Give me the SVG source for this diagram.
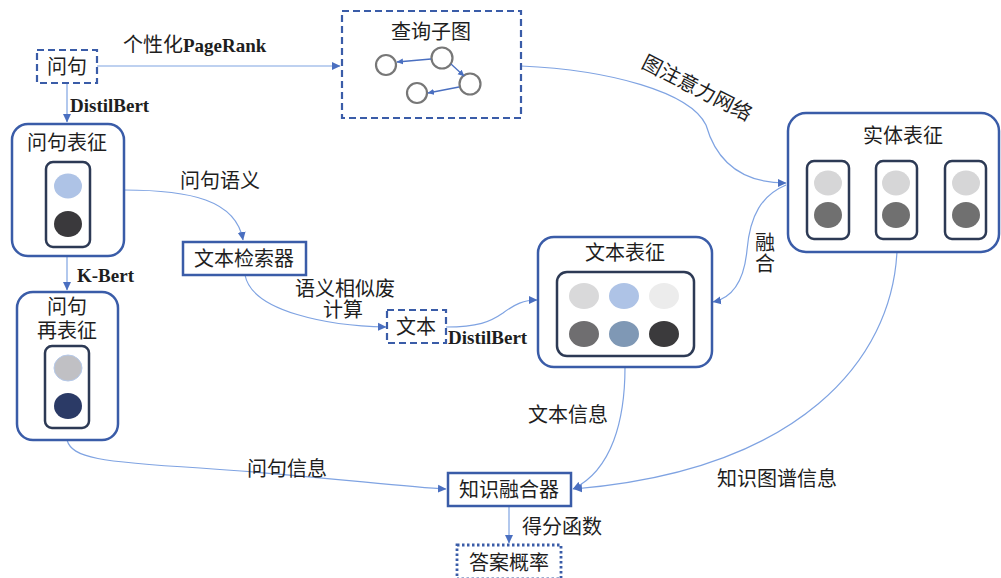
<svg xmlns="http://www.w3.org/2000/svg" width="1001" height="578" viewBox="0 0 1001 578">
<style>
.t{font-family:"Liberation Serif","Noto Sans CJK SC",serif;font-size:20px;fill:#1e1e1e;text-anchor:middle;dominant-baseline:central}
.b{font-family:"Liberation Serif","Noto Sans CJK SC",serif;font-size:19px;font-weight:bold;fill:#1e1e1e;dominant-baseline:central}
.box{fill:#fff;stroke:#3a5ca8;stroke-width:2.5}
.dash{fill:#fff;stroke:#3a5ca8;stroke-width:2.2;stroke-dasharray:7 4}
.dot{fill:#fff;stroke:#3a5ca8;stroke-width:2.8;stroke-dasharray:2.5 2.5}
.inner{fill:#fff;stroke:#2d3a55;stroke-width:2.5}
.c{fill:none;stroke:#7fa3e2;stroke-width:1.2}
.sn{fill:#fff;stroke:#777;stroke-width:2.2}
.sa{fill:none;stroke:#4a6fc0;stroke-width:1.3}
</style>
<defs>
<marker id="ah" markerUnits="userSpaceOnUse" markerWidth="9" markerHeight="9" refX="8" refY="4.5" orient="auto">
<path d="M0,0.5 L8.5,4.5 L0,8.5 Z" fill="#4a6fc0"/>
</marker>
<marker id="ahs" markerUnits="userSpaceOnUse" markerWidth="7" markerHeight="7" refX="6" refY="3.5" orient="auto">
<path d="M0,0.5 L6.5,3.5 L0,6.5 Z" fill="#4a6fc0"/>
</marker>
</defs>

<g id="connectors">
<path class="c" d="M97,66 L340,66" marker-end="url(#ah)"/>
<path class="c" d="M67,83 L67,122" marker-end="url(#ah)"/>
<path class="c" d="M124,190 C190,190 236,200 243,240" marker-end="url(#ah)"/>
<path class="c" d="M67,256 L67,290" marker-end="url(#ah)"/>
<path class="c" d="M245,275 C252,312 330,326 386,327" marker-end="url(#ah)"/>
<path class="c" d="M446,327 C478,327 490,322 503,313 C515,304 524,300 537,300" marker-end="url(#ah)"/>
<path class="c" d="M521,66 C610,70 690,92 706,125 C716,160 740,183 786,183" marker-end="url(#ah)"/>
<path class="c" d="M786,185 C762,195 750,215 747,250 C744,282 732,298 713,302" marker-end="url(#ah)"/>
<path class="c" d="M625,367 C625,420 612,470 573,489" marker-end="url(#ah)"/>
<path class="c" d="M67,440 C72,458 100,462 200,468 C320,476 400,487 446,489" marker-end="url(#ah)"/>
<path class="c" d="M897,251 C892,360 800,470 574,489" marker-end="url(#ah)"/>
<path class="c" d="M509,506 L509,543" marker-end="url(#ah)"/>
</g>

<g id="labels">
<text class="t" x="153" y="45" text-anchor="end">个性化</text>
<text class="b" x="183" y="45">PageRank</text>
<text class="b" x="70" y="105">DistilBert</text>
<text class="t" x="220" y="181">问句语义</text>
<text class="b" x="77" y="275">K-Bert</text>
<text class="t" x="345" y="289">语义相似废</text>
<text class="t" x="343" y="310">计算</text>
<text class="b" x="448" y="337">DistilBert</text>
<text class="t" x="697" y="88" transform="rotate(27 697 88)">图注意力网络</text>
<text class="t" x="765" y="243">融</text>
<text class="t" x="765" y="264">合</text>
<text class="t" x="568" y="415">文本信息</text>
<text class="t" x="287" y="469">问句信息</text>
<text class="t" x="777" y="479">知识图谱信息</text>
<text class="t" x="562" y="527">得分函数</text>
</g>

<g id="n-wenju">
<rect class="dash" x="37" y="50" width="60" height="33"/>
<text class="t" x="67" y="67">问句</text>
</g>

<g id="n-chaxunzitu">
<rect class="dash" x="342" y="11" width="179" height="107"/>
<text class="t" x="431" y="32">查询子图</text>
<circle class="sn" cx="386" cy="65" r="10"/>
<circle class="sn" cx="442" cy="58" r="10.5"/>
<circle class="sn" cx="470" cy="84" r="10.5"/>
<circle class="sn" cx="417" cy="93" r="10"/>
<path class="sa" d="M431,59 L397,62" marker-end="url(#ahs)"/>
<path class="sa" d="M451,64 L464,76" marker-end="url(#ahs)"/>
<path class="sa" d="M459,87 L428,93" marker-end="url(#ahs)"/>
</g>

<g id="n-wenjubiaozheng">
<rect class="box" x="12" y="124" width="112" height="132" rx="16"/>
<text class="t" x="67" y="143">问句表征</text>
<rect class="inner" x="46" y="162" width="44" height="85" rx="7"/>
<ellipse cx="68" cy="186" rx="14" ry="12.5" fill="#aec3e6"/>
<ellipse cx="68" cy="224" rx="14" ry="13" fill="#3a393c"/>
</g>

<g id="n-wenbenjiansuoqi">
<rect class="box" x="183" y="242" width="123" height="33"/>
<text class="t" x="244" y="259">文本检索器</text>
</g>

<g id="n-wenjuzaibiaozheng">
<rect class="box" x="17" y="292" width="101" height="148" rx="16"/>
<text class="t" x="67" y="307">问句</text>
<text class="t" x="67" y="331">再表征</text>
<rect class="inner" x="45" y="346" width="44" height="82" rx="7"/>
<ellipse cx="68" cy="368" rx="14" ry="13" fill="#c0c0c4" stroke="#b5c9ea" stroke-width="1"/>
<ellipse cx="68" cy="406" rx="14" ry="13" fill="#2b3a66"/>
</g>

<g id="n-wenben">
<rect class="dash" x="387" y="310" width="59" height="33"/>
<text class="t" x="416" y="327">文本</text>
</g>

<g id="n-wenbenbiaozheng">
<rect class="box" x="538" y="237" width="174" height="130" rx="16"/>
<text class="t" x="625" y="253">文本表征</text>
<rect class="inner" x="557" y="272" width="137" height="84" rx="10"/>
<ellipse cx="584" cy="296" rx="15" ry="13" fill="#d9d9da"/>
<ellipse cx="624" cy="296" rx="15" ry="13" fill="#aec3e6"/>
<ellipse cx="664" cy="296" rx="15" ry="13" fill="#ececec"/>
<ellipse cx="584" cy="334" rx="15" ry="13" fill="#6f6e70"/>
<ellipse cx="624" cy="334" rx="15" ry="13" fill="#7f98b5"/>
<ellipse cx="664" cy="334" rx="15" ry="13" fill="#3b3a3c"/>
</g>

<g id="n-shitibiaozheng">
<rect class="box" x="788" y="113" width="211" height="139" rx="18"/>
<text class="t" x="903" y="136">实体表征</text>
<rect class="inner" x="807" y="161" width="42" height="78" rx="7"/>
<rect class="inner" x="876" y="161" width="41" height="78" rx="7"/>
<rect class="inner" x="945" y="161" width="41" height="78" rx="7"/>
<ellipse cx="828" cy="183" rx="14" ry="12.5" fill="#d6d6d7"/>
<ellipse cx="828" cy="215" rx="14" ry="13" fill="#707070"/>
<ellipse cx="896" cy="183" rx="14" ry="12.5" fill="#d6d6d7"/>
<ellipse cx="896" cy="215" rx="14" ry="13" fill="#707070"/>
<ellipse cx="966" cy="183" rx="14" ry="12.5" fill="#d6d6d7"/>
<ellipse cx="966" cy="215" rx="14" ry="13" fill="#707070"/>
</g>

<g id="n-zhishironghe">
<rect class="box" x="448" y="473" width="123" height="33"/>
<text class="t" x="509" y="490">知识融合器</text>
</g>

<g id="n-daan">
<rect class="dot" x="457" y="545" width="104" height="34"/>
<text class="t" x="509" y="563">答案概率</text>
</g>
</svg>
